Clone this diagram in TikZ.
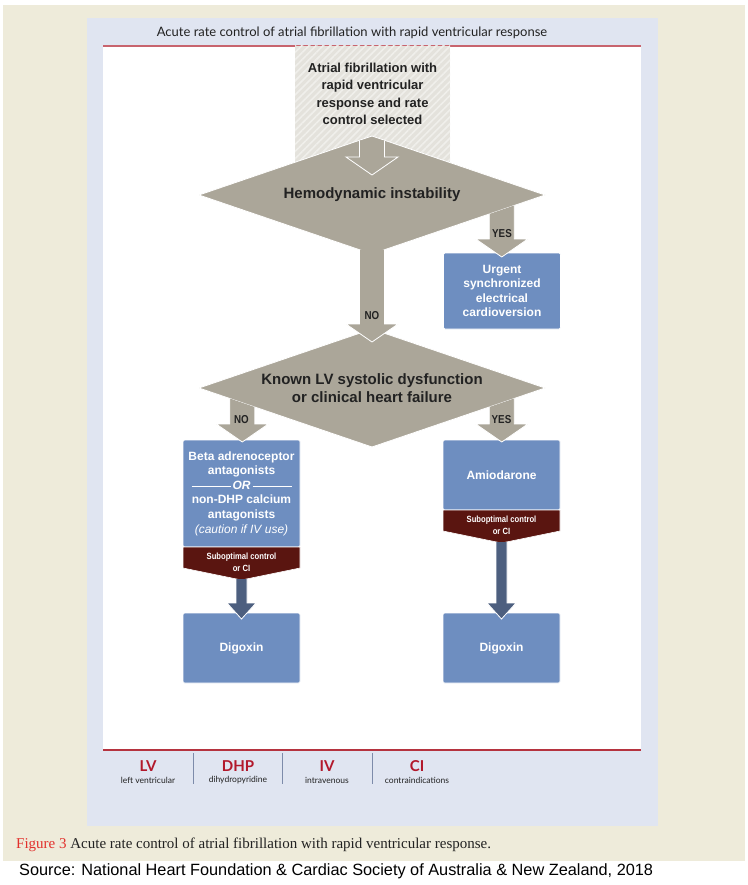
\documentclass[tikz,border=0pt]{standalone}
\usepackage{fontspec}
\setmainfont{Liberation Sans}
\newfontfamily\titlefont{Lato}
\newfontfamily\narrowfont[FakeStretch=0.85]{Liberation Sans}
\newfontfamily\captionfont{Liberation Serif}
\usetikzlibrary{shapes.geometric,patterns.meta,calc}

% vertical block arrow: style, from, tip, slant of the shaft top
\newcommand{\blockarrow}[4]{%
  \fill[#1] let \p1=#2, \p2=#3 in
    (\x1-\shaftw,{\y1+(#4)}) -- (\x1-\shaftw,\y2+\headl) -- (\x1-\headw,\y2+\headl) -- (\x1,\y2)
    -- (\x1+\headw,\y2+\headl) -- (\x1+\shaftw,\y2+\headl) -- (\x1+\shaftw,{\y1-(#4)}) -- cycle;
  \draw[#1, fill=none, draw=white, line width=0.8pt] let \p1=#2, \p2=#3 in
    (\x1-\shaftw,{\y1+(#4)}) -- (\x1-\shaftw,\y2+\headl) -- (\x1-\headw,\y2+\headl) -- (\x1,\y2)
    -- (\x1+\headw,\y2+\headl) -- (\x1+\shaftw,\y2+\headl) -- (\x1+\shaftw,{\y1-(#4)});
}

\begin{document}
\begin{tikzpicture}[x=1pt, y=-1pt,
    decision/.style={diamond, aspect=2.93, fill=dgray, draw=white, line width=0.8pt, inner sep=0pt, outer sep=0pt,
      minimum width=346pt, minimum height=118pt, align=center, text=inkdark,
      font=\fontsize{15}{18}\selectfont\bfseries},
    drugbox/.style={rectangle, rounded corners=1.5pt, fill=boxblue, draw=white, line width=0.6pt,
      minimum width=117pt, inner sep=0pt, outer sep=0pt, align=center, text=white,
      font=\fontsize{12}{14.6}\selectfont\bfseries},
    startbox/.style={rectangle, minimum width=155pt, minimum height=124pt, inner sep=0pt, outer sep=0pt,
      preaction={fill=hatchbg}, pattern={Lines[angle=45,distance=5pt,line width=1.6pt]}, pattern color=hatchln},
    starttext/.style={align=center, inner sep=0pt, text=inkdark, font=\fontsize{13}{17.3}\selectfont\bfseries},
    answer/.style={inner sep=0pt, text=inkdark, font=\narrowfont\fontsize{11.5}{13}\selectfont\bfseries},
    caveat/.style={inner sep=0pt, align=center, text=white, font=\narrowfont\fontsize{9}{12}\selectfont\bfseries},
    grayarrow/.style={fill=dgray, /utils/exec={\def\shaftw{12.5pt}\def\headw{26pt}\def\headl{18pt}}},
    darkarrow/.style={fill=darkblue, /utils/exec={\def\shaftw{5.5pt}\def\headw{14.5pt}\def\headl{16pt}}},
    banner/.style={fill=bannerred, draw=white, line width=0.6pt},
    abbr/.style={inner sep=0pt, text=legendred, font=\titlefont\fontsize{15}{16}\selectfont\bfseries},
    abbrdef/.style={inner sep=0pt, text=inkdark, font=\titlefont\fontsize{8.5}{10}\selectfont},
    legendsep/.style={draw=sepblue, line width=0.6pt}
  ]
    \definecolor{beige}{HTML}{EEEBDA}
    \definecolor{panel}{HTML}{E0E5F1}
    \definecolor{topred}{HTML}{C8646E}
    \definecolor{botred}{HTML}{B5333F}
    \definecolor{dgray}{HTML}{ABA699}
    \definecolor{hatchbg}{HTML}{E4E2DC}
    \definecolor{hatchln}{HTML}{F0EFEB}
    \definecolor{boxblue}{HTML}{6E8EC0}
    \definecolor{bannerred}{HTML}{5A1510}
    \definecolor{darkblue}{HTML}{4D5F7F}
    \definecolor{inkdark}{HTML}{222222}
    \definecolor{legendred}{HTML}{B2182B}
    \definecolor{sepblue}{HTML}{7D8BAA}
    \definecolor{figred}{HTML}{E2302C}
    \useasboundingbox (0,0) rectangle (747,885);
    \fill[white] (0,0) rectangle (747,885);
    \fill[beige] (3,5) rectangle (745,861);
    \fill[panel] (87,18) rectangle (658,826);
    \fill[white] (103,46) rectangle (641,750);
    \draw[topred, line width=1.2pt] (103,46) -- (641,46);
    \draw[botred, line width=1.2pt] (103,750) -- (641,750);
    \node[text=inkdark, font=\titlefont\fontsize{13}{15}\selectfont] (title) at (352,33)
        {Acute rate control of atrial fibrillation with rapid ventricular response};
    % flow chart
    \node[startbox] (start) at (372.5,108) {};
    \node[starttext] (starttxt) at ([yshift=14pt]start.center)
        {Atrial fibrillation with\\rapid ventricular\\response and rate\\control selected};
    \node[decision] (d1) at (372,195) {Hemodynamic instability};
    \node[decision] (d2) at (372,388) {Known LV systolic dysfunction\\or clinical heart failure};
    \node[drugbox, minimum height=76pt]  (urgent) at (502,291)   {Urgent\\synchronized\\electrical\\cardioversion};
    \node[drugbox, minimum height=107pt] (beta)   at (241.5,493.5)
        {Beta adrenoceptor\\antagonists\\\rule[3pt]{39pt}{0.6pt}\,\textit{OR}\,\rule[3pt]{39pt}{0.6pt}\\non-DHP calcium\\antagonists\\{\mdseries\itshape (caution if IV use)}};
    \node[drugbox, minimum height=70pt]  (amio)   at (501.5,475) {Amiodarone};
    \node[drugbox, minimum height=70pt]  (digl)   at (241.5,648) {Digoxin};
    \node[drugbox, minimum height=70pt]  (digr)   at (501.5,648) {Digoxin};
    % caveat banners
    \draw[banner] (beta.south west) -- ++(0,21) -- ($(beta.south)+(0,33)$) -- ($(beta.south east)+(0,21)$) -- (beta.south east) -- cycle;
    \draw[banner] (amio.south west) -- ++(0,21) -- ($(amio.south)+(0,33)$) -- ($(amio.south east)+(0,21)$) -- (amio.south east) -- cycle;
    \node[caveat] (betanote) at ($(beta.south)+(0,15)$) {Suboptimal control\\or CI};
    \node[caveat] (amionote) at ($(amio.south)+(0,15)$) {Suboptimal control\\or CI};
    % arrows
    \blockarrow{grayarrow}{($(d1.north)+(0,4.3)$)}{($(d1.north)+(0,39)$)}{0pt}
    \blockarrow{grayarrow}{($(d1.south)!.75!(d1.east)$)}{($(urgent.north)+(0,4)$)}{-4.3pt}
    \blockarrow{grayarrow}{($(d1.south)+(0,-4.3)$)}{($(d2.north)+(0,13)$)}{0pt}
    \blockarrow{grayarrow}{($(d2.south)!.75!(d2.west)$)}{($(beta.north)+(0,2)$)}{4.3pt}
    \blockarrow{grayarrow}{($(d2.south)!.75!(d2.east)$)}{($(amio.north)+(0,2)$)}{-4.3pt}
    \node[answer] (yes1) at ($(urgent.north)+(0,-19)$) {YES};
    \node[answer] (no1)  at ($(d2.north)+(0,-13)$)     {NO};
    \node[answer] (no2)  at ($(beta.north)+(0,-20)$)   {NO};
    \node[answer] (yes2) at ($(amio.north)+(0,-20)$)   {YES};
    \blockarrow{darkarrow}{($(beta.south)+(0,32)$)}{($(digl.north)+(0,6)$)}{0pt}
    \blockarrow{darkarrow}{($(amio.south)+(0,32)$)}{($(digr.north)+(0,6)$)}{0pt}
    % legend
    \node[abbr]    (lv)     at (148,766) {LV};
    \node[abbrdef] (lvdef)  at (148,780) {left ventricular};
    \node[abbr]    (dhp)    at (238,766) {DHP};
    \node[abbrdef] (dhpdef) at (238,780) {dihydropyridine};
    \node[abbr]    (iv)     at (327,766) {IV};
    \node[abbrdef] (ivdef)  at (327,780) {intravenous};
    \node[abbr]    (ci)     at (417,766) {CI};
    \node[abbrdef] (cidef)  at (417,780) {contraindications};
    \draw[legendsep] (193,753) -- (193,784);
    \draw[legendsep] (282,753) -- (282,784);
    \draw[legendsep] (372,753) -- (372,784);
    % caption and source
    \node[anchor=west, inner sep=0pt, text=inkdark, font=\captionfont\fontsize{15}{17}\selectfont] (caption) at (16,845)
        {\textcolor{figred}{Figure 3} Acute rate control of atrial fibrillation with rapid ventricular response.};
    \node[anchor=west, inner sep=0pt, text=black, font=\fontsize{16.3}{19}\selectfont] (source) at (19,871)
        {Source: National Heart Foundation \& Cardiac Society of Australia \& New Zealand, 2018};
\end{tikzpicture}
\end{document}
